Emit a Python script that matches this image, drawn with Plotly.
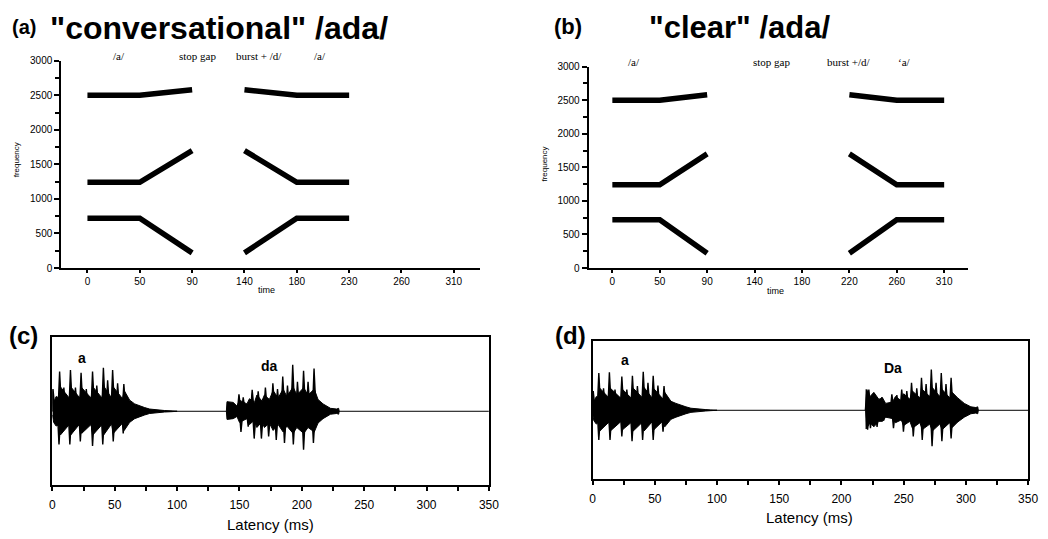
import plotly.graph_objects as go

W, H = 1048, 539
SANS = "Arial, Liberation Sans, sans-serif"
SERIF = "Times New Roman, Liberation Serif, serif"

# ---------------- formant schematics (a) and (b) ----------------
time_labels_a = ["0", "50", "90", "140", "180", "230", "260", "310"]
time_labels_b = ["0", "50", "90", "140", "180", "220", "260", "310"]
vowel1_idx = [0, 1, 2]
vowel2_idx_a = [3, 4, 5]
vowel2_idx_b = [5, 6, 7]

f1_vowel1 = [720, 720, 220]
f1_vowel2 = [220, 720, 720]
f2_vowel1 = [1240, 1240, 1700]
f2_vowel2 = [1700, 1240, 1240]
f3_vowel1 = [2500, 2500, 2580]
f3_vowel2 = [2580, 2500, 2500]

phon_labels = ["/a/", "stop gap", "burst + /d/", "/a/"]
phon_labels_b = ["/a/", "stop gap", "burst +/d/", "\u02bba/"]

# ---------------- waveforms (c) and (d): read envelope & pulse values -------
# (c) conversational: first vowel "a"
c1_env_t = [0, 1, 3, 5.5, 6.5, 13.5, 14.8, 22, 23.5, 31, 32.5, 39.8, 41.2, 47.5, 48.8, 56.3, 57.6, 62, 66, 70, 74, 78, 82, 86, 90, 96, 100]
c1_env_up = [0.30, 0.12, 0.20, 0.18, 0.33, 0.18, 0.33, 0.18, 0.32, 0.18, 0.33, 0.18, 0.34, 0.18, 0.33, 0.17, 0.28, 0.15, 0.10, 0.07, 0.05, 0.03, 0.02, 0.015, 0.01, 0.005, 0]
c1_env_lo = [-0.05, -0.15, -0.20, -0.18, -0.32, -0.18, -0.32, -0.17, -0.30, -0.18, -0.32, -0.18, -0.32, -0.17, -0.30, -0.16, -0.26, -0.15, -0.10, -0.07, -0.05, -0.03, -0.02, -0.015, -0.01, -0.005, 0]
c1_peak_t = [0.5, 5.8, 9.2, 14.5, 18.5, 23.0, 27.2, 32.2, 35.6, 40.9, 44.3, 48.3, 52.3, 57.3]
c1_peak_a = [0.30, 0.54, 0.32, 0.56, 0.32, 0.52, 0.30, 0.54, 0.35, 0.59, 0.42, 0.56, 0.38, 0.37]
c1_trough_t = [5.3, 14.0, 22.4, 32.2, 40.4, 48.8, 56.8]
c1_trough_a = [-0.45, -0.45, -0.41, -0.47, -0.45, -0.41, -0.30]
# (c) second syllable "da"
c2_env_t = [139.5, 140, 145, 148, 150, 156, 158, 162, 164, 168, 170, 174, 177, 181, 185, 188, 193, 196, 201.5, 205, 210, 213, 217, 223, 228, 229.5, 230]
c2_env_up = [0, 0.13, 0.12, 0.07, 0.15, 0.10, 0.17, 0.12, 0.22, 0.14, 0.22, 0.16, 0.28, 0.18, 0.30, 0.20, 0.33, 0.22, 0.32, 0.22, 0.30, 0.16, 0.10, 0.04, 0.03, 0.04, 0]
c2_env_lo = [0, -0.11, -0.10, -0.07, -0.15, -0.10, -0.18, -0.12, -0.22, -0.14, -0.22, -0.16, -0.26, -0.18, -0.28, -0.20, -0.30, -0.22, -0.30, -0.22, -0.28, -0.16, -0.10, -0.04, -0.03, -0.04, 0]
c2_peak_t = [149.6, 153.0, 160.2, 165.0, 170.8, 176.8, 180.5, 184.7, 188.5, 192.7, 196.5, 201.4, 205.0, 209.8]
c2_peak_a = [0.23, 0.19, 0.29, 0.27, 0.32, 0.38, 0.30, 0.47, 0.35, 0.63, 0.40, 0.55, 0.40, 0.58]
c2_trough_t = [151.2, 157.0, 161.8, 167.6, 173.4, 179.5, 186.1, 193.2, 201.4, 209.3]
c2_trough_a = [-0.28, -0.21, -0.37, -0.37, -0.34, -0.39, -0.43, -0.45, -0.52, -0.43]

# (d) clear: first vowel "a"
d1_env_t = [0, 1, 3, 4.8, 5.8, 13.2, 14.3, 23, 24.2, 31.5, 32.7, 40.2, 41.4, 48.2, 49.4, 56.8, 58, 63, 67, 71, 75, 79, 83, 87, 91, 95, 100]
d1_env_up = [0.28, 0.12, 0.20, 0.18, 0.32, 0.18, 0.32, 0.17, 0.30, 0.17, 0.32, 0.18, 0.33, 0.17, 0.31, 0.16, 0.26, 0.13, 0.10, 0.07, 0.05, 0.03, 0.02, 0.015, 0.01, 0.005, 0]
d1_env_lo = [-0.05, -0.15, -0.20, -0.17, -0.30, -0.17, -0.30, -0.16, -0.28, -0.17, -0.30, -0.17, -0.30, -0.16, -0.28, -0.15, -0.24, -0.13, -0.10, -0.07, -0.05, -0.03, -0.02, -0.015, -0.01, -0.005, 0]
d1_peak_t = [0.5, 5.0, 8.8, 13.5, 18.0, 23.5, 27.5, 32.0, 36.0, 40.7, 44.5, 48.7, 52.5, 57.4]
d1_peak_a = [0.28, 0.54, 0.32, 0.55, 0.30, 0.49, 0.30, 0.50, 0.35, 0.56, 0.40, 0.50, 0.36, 0.35]
d1_trough_t = [5.0, 14.0, 23.5, 31.7, 40.2, 48.7, 56.6]
d1_trough_a = [-0.43, -0.43, -0.38, -0.45, -0.43, -0.43, -0.31]
# (d) second syllable "Da"
d2_env_t = [219.5, 219.8, 223, 226, 230, 233, 235.5, 241, 243.4, 248, 250, 255, 257, 263, 265, 271, 273, 279, 281, 287, 289, 293.4, 298.7, 304, 308, 309.5, 310]
d2_env_up = [0, 0.30, 0.20, 0.26, 0.16, 0.18, 0.10, 0.12, 0.20, 0.14, 0.24, 0.16, 0.28, 0.18, 0.30, 0.20, 0.33, 0.20, 0.30, 0.18, 0.26, 0.18, 0.10, 0.05, 0.04, 0.05, 0]
d2_env_lo = [0, -0.27, -0.18, -0.24, -0.16, -0.16, -0.10, -0.12, -0.18, -0.14, -0.22, -0.16, -0.26, -0.18, -0.28, -0.20, -0.30, -0.20, -0.28, -0.18, -0.25, -0.17, -0.10, -0.05, -0.04, -0.05, 0]
d2_peak_t = [220.5, 222.0, 226.0, 232.5, 240.5, 244.5, 248.4, 252.5, 256.3, 260.5, 264.3, 268.0, 272.2, 276.0, 280.2, 284.0, 288.1]
d2_peak_a = [0.30, 0.30, 0.25, 0.19, 0.23, 0.22, 0.30, 0.28, 0.40, 0.32, 0.47, 0.38, 0.59, 0.40, 0.54, 0.38, 0.47]
d2_trough_t = [221.0, 223.3, 228.6, 233.9, 241.8, 249.8, 257.7, 264.9, 272.8, 280.7, 288.1]
d2_trough_a = [-0.28, -0.26, -0.24, -0.15, -0.26, -0.31, -0.38, -0.43, -0.52, -0.45, -0.41]

fig = go.Figure()

# ---- formant lines
def formant_traces(xa, ya, v2_idx):
    for v1, v2 in [(f1_vowel1, f1_vowel2), (f2_vowel1, f2_vowel2), (f3_vowel1, f3_vowel2)]:
        xs = list(vowel1_idx) + [None] + list(v2_idx)
        ys = list(v1) + [None] + list(v2)
        fig.add_trace(go.Scatter(x=xs, y=ys, mode="lines", xaxis=xa, yaxis=ya,
                                 line=dict(color="black", width=5.5), connectgaps=False,
                                 hoverinfo="skip", showlegend=False))

formant_traces("x", "y", vowel2_idx_a)
formant_traces("x2", "y2", vowel2_idx_b)

# ---- waveform drawing
def waveform(xa, ya, env_t, up, lo, pk_t, pk_a, tr_t, tr_a):
    fig.add_trace(go.Scatter(x=list(env_t) + list(env_t)[::-1], y=list(up) + list(lo)[::-1],
                             mode="lines", fill="toself", fillcolor="black",
                             line=dict(color="black", width=1), xaxis=xa, yaxis=ya,
                             hoverinfo="skip", showlegend=False))
    xs, ys = [], []
    for t, a in list(zip(pk_t, pk_a)) + list(zip(tr_t, tr_a)):
        xs += [t - 1.3, t, t + 1.6, None]
        ys += [0, a, 0, None]
    fig.add_trace(go.Scatter(x=xs, y=ys, mode="lines", fill="toself", fillcolor="black",
                             line=dict(color="black", width=1.4), xaxis=xa, yaxis=ya,
                             hoverinfo="skip", showlegend=False))

for xa, ya in [("x3", "y3"), ("x4", "y4")]:
    fig.add_trace(go.Scatter(x=[0, 350], y=[0, 0], mode="lines", xaxis=xa, yaxis=ya,
                             line=dict(color="black", width=1), hoverinfo="skip", showlegend=False))

waveform("x3", "y3", c1_env_t, c1_env_up, c1_env_lo, c1_peak_t, c1_peak_a, c1_trough_t, c1_trough_a)
waveform("x3", "y3", c2_env_t, c2_env_up, c2_env_lo, c2_peak_t, c2_peak_a, c2_trough_t, c2_trough_a)
waveform("x4", "y4", d1_env_t, d1_env_up, d1_env_lo, d1_peak_t, d1_peak_a, d1_trough_t, d1_trough_a)
waveform("x4", "y4", d2_env_t, d2_env_up, d2_env_lo, d2_peak_t, d2_peak_a, d2_trough_t, d2_trough_a)

def px(x):
    return x / W

def py(y):
    return 1 - y / H

# ---- axes
def formant_xaxis(domain, labels, anchor):
    return dict(domain=domain, range=[-0.5, 7.5], tickmode="array", tickvals=list(range(len(labels))),
                ticktext=labels, showline=True, linecolor="black", linewidth=2, ticks="outside",
                ticklen=3, tickwidth=1.5, tickcolor="black", tickfont=dict(family=SANS, size=10, color="black"),
                showgrid=False, zeroline=False, anchor=anchor, fixedrange=True)

def formant_yaxis(domain, anchor):
    return dict(domain=domain, range=[0, 3000], dtick=500, showline=True, linecolor="black", linewidth=2,
                ticks="outside", ticklen=5, tickwidth=1.5, tickcolor="black",
                minor=dict(dtick=250, ticks="outside", ticklen=4, tickwidth=1.5, tickcolor="black"),
                tickfont=dict(family=SANS, size=10, color="black"), showgrid=False, zeroline=False,
                anchor=anchor, fixedrange=True)

def wave_xaxis(domain, anchor):
    return dict(domain=domain, range=[0, 350], dtick=50, showline=True, mirror=True, linecolor="black",
                linewidth=1.5, ticks="outside", ticklen=4, tickwidth=1.5, tickcolor="black",
                minor=dict(dtick=25, ticks="outside", ticklen=4, tickwidth=1.5, tickcolor="black"),
                ticklabelstandoff=4,
                tickfont=dict(family=SANS, size=12, color="black"), showgrid=False, zeroline=False,
                anchor=anchor, fixedrange=True)

def wave_yaxis(domain, anchor):
    return dict(domain=domain, range=[-1, 1], showline=True, mirror=True, linecolor="black", linewidth=1.5,
                ticks="", showticklabels=False, showgrid=False, zeroline=False, anchor=anchor, fixedrange=True)

fig.update_layout(
    width=W, height=H, margin=dict(l=0, r=0, t=0, b=0),
    paper_bgcolor="white", plot_bgcolor="white", showlegend=False,
    xaxis=formant_xaxis([px(59), px(483)], time_labels_a, "y"),
    yaxis=formant_yaxis([py(268), py(56)], "x"),
    xaxis2=formant_xaxis([px(593), px(977)], time_labels_b, "y2"),
    yaxis2=formant_yaxis([py(268), py(62)], "x2"),
    xaxis3=wave_xaxis([px(50), px(492)], "y3"),
    yaxis3=wave_yaxis([py(490), py(339)], "x3"),
    xaxis4=wave_xaxis([px(597), px(1038)], "y4"),
    yaxis4=wave_yaxis([py(484), py(343)], "x4"),
)

ann = []
def text(x, y, s, size, family=SANS, bold=False, xanchor="center", angle=0):
    ann.append(dict(x=px(x), y=py(y), xref="paper", yref="paper", text=("<b>%s</b>" % s) if bold else s,
                    showarrow=False, xanchor=xanchor, yanchor="middle", textangle=angle,
                    font=dict(family=family, size=size, color="black")))

# titles
text(21, 21, "(a)", 20, bold=True)
text(46, 22, "\"conversational\" /ada/", 32, bold=True, xanchor="left")
text(572, 21, "(b)", 22, bold=True)
text(652, 22, "\"clear\" /ada/", 31, bold=True, xanchor="left")
text(21, 337, "(c)", 24, bold=True)
text(575, 337, "(d)", 24, bold=True)

# phonetic segment labels
for xx, s in zip([117, 197, 259, 321], phon_labels):
    text(xx, 51, s, 11, family=SERIF)
for xx, s in zip([639, 778, 857, 913], phon_labels_b):
    text(xx, 57, s, 11, family=SERIF)

# axis titles
text(14, 157, "frequency", 8, angle=-90)
text(548, 162, "frequency", 8, angle=-90)
text(267, 290, "time", 9)
text(782, 291, "time", 9)
text(271, 530, "Latency (ms)", 15)
text(817, 523, "Latency (ms)", 15)

# syllable labels
text(80, 360, "a", 14, bold=True)
text(270, 368, "da", 14, bold=True)
text(630, 362, "a", 14, bold=True)
text(901, 370, "Da", 14, bold=True)

fig.update_layout(annotations=ann)
fig.write_html("out.html", config={"displayModeBar": False},
               post_script="document.body.style.margin='0px';document.body.style.overflow='hidden';")
